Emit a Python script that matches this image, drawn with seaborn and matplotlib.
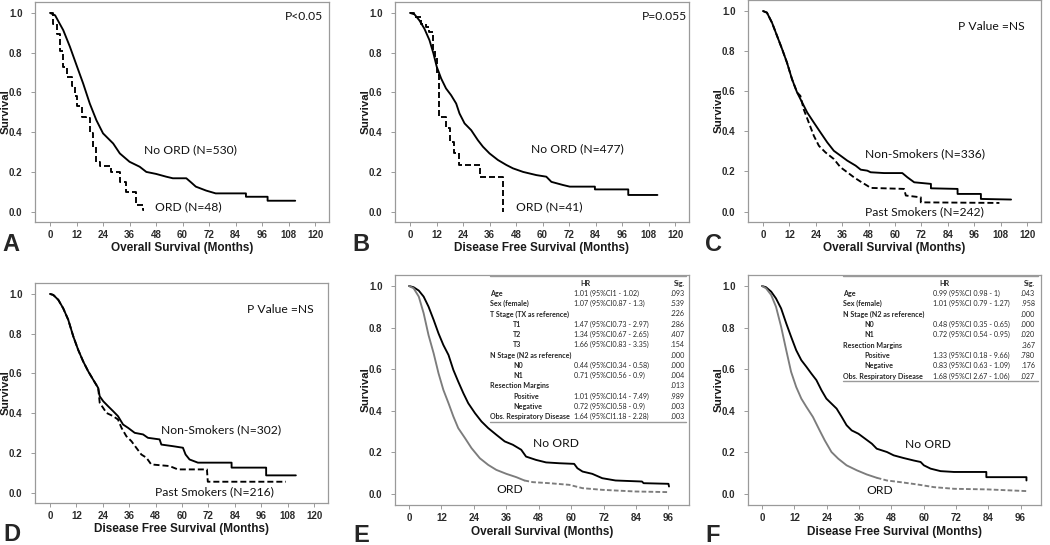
import matplotlib
matplotlib.use("Agg")
import matplotlib.pyplot as plt
import pandas as pd
import seaborn as sns

# ---- survival curves (months, survival) ----
# A: overall survival, ORD vs no ORD
a_noord_t = [0, 2.3, 6, 9, 12, 15, 18, 21, 24, 28.6, 31.6, 36, 40.6, 43.6, 48, 52.6, 55.6, 61.7,
             64, 66, 70.7, 75, 88.7, 88.7, 98.5, 98.5, 111]
a_noord_s = [1, 0.988, 0.913, 0.83, 0.737, 0.645, 0.544, 0.46, 0.394, 0.343, 0.293, 0.251, 0.226,
             0.20, 0.19, 0.176, 0.168, 0.168, 0.146, 0.126, 0.106, 0.092, 0.092, 0.075, 0.075, 0.055, 0.055]
a_ord_t = [0, 1.5, 3, 4.5, 6, 7.5, 9.8, 11.3, 12.3, 14.3, 16.5, 18, 19.5, 21, 22.5, 27.8, 31.6,
           34.6, 39, 42, 42.5]
a_ord_s = [1, 0.946, 0.896, 0.81, 0.73, 0.68, 0.63, 0.58, 0.53, 0.477, 0.47, 0.394, 0.327, 0.25,
           0.23, 0.20, 0.15, 0.10, 0.034, 0.01, 0.01]

# B: disease free survival, ORD vs no ORD
b_noord_t = [0, 2, 4.2, 6.5, 8.8, 10.6, 12.1, 14.1, 16.3, 18.6, 20.9, 22.4, 24.7, 27.7, 30.7, 33,
             36, 39.8, 43.6, 46.6, 51.2, 57.2, 61.7, 64, 69.3, 72.3, 83.7, 83.7, 98.8, 98.8, 112]
b_noord_s = [1, 0.993, 0.963, 0.921, 0.863, 0.796, 0.729, 0.67, 0.62, 0.586, 0.544, 0.494, 0.444,
             0.41, 0.36, 0.327, 0.293, 0.26, 0.235, 0.218, 0.20, 0.184, 0.176, 0.15, 0.134, 0.126,
             0.126, 0.112, 0.112, 0.084, 0.084]
b_ord_t = [0, 2, 5, 7.3, 8.8, 10.3, 11.5, 12.1, 13, 16.5, 17.9, 20.1, 22.4, 31.8, 42.1]
b_ord_s = [1, 0.98, 0.946, 0.93, 0.905, 0.81, 0.78, 0.687, 0.477, 0.42, 0.35, 0.293, 0.235, 0.176, 0.0]

# C: overall survival, non-smokers vs past smokers
c_non_t = [0, 1.8, 4.1, 6.4, 8.7, 10.9, 13.2, 15.5, 17.8, 20.1, 23.1, 26.1, 29.2, 32.2, 35.2, 38.3,
           42.1, 44.4, 47.4, 48.9, 55, 63.3, 65.6, 68.7, 76.3, 76.3, 88.4, 88.4, 99, 99, 112.7]
c_non_s = [1, 0.992, 0.942, 0.876, 0.81, 0.743, 0.66, 0.594, 0.544, 0.494, 0.444, 0.395, 0.345,
           0.303, 0.279, 0.254, 0.229, 0.209, 0.204, 0.196, 0.192, 0.192, 0.171, 0.146, 0.138,
           0.116, 0.113, 0.088, 0.088, 0.063, 0.06]
c_past_t = [0, 1.8, 4.1, 6.4, 8.7, 10.9, 13.2, 15.5, 17.0, 18.5, 20.8, 23.1, 25.4, 28.4, 32.2, 35.2,
            38.3, 41.3, 44.4, 47.4, 48.9, 55, 64.1, 64.9, 71.7, 71.7, 107.4]
c_past_s = [1, 0.992, 0.942, 0.876, 0.81, 0.743, 0.66, 0.594, 0.577, 0.51, 0.444, 0.378, 0.328,
            0.295, 0.262, 0.221, 0.196, 0.171, 0.149, 0.129, 0.118, 0.116, 0.113, 0.08, 0.071,
            0.046, 0.043]

# D: disease free survival, non-smokers vs past smokers
d_non_t = [0, 1.5, 3.8, 6, 8.3, 10.6, 12.8, 15.1, 17.4, 19.6, 21.9, 22.6, 24.2, 26.4, 28.7, 30.9,
           33.2, 35.5, 38.5, 42.3, 44.5, 49.8, 50.6, 55.8, 60.4, 61.6, 63.4, 67.2, 82.5, 82.5, 98.2,
           98.2, 111.7]
d_non_s = [1, 0.995, 0.97, 0.928, 0.87, 0.786, 0.719, 0.66, 0.61, 0.569, 0.527, 0.485, 0.46, 0.435,
           0.41, 0.385, 0.343, 0.326, 0.301, 0.293, 0.276, 0.268, 0.242, 0.234, 0.226, 0.192,
           0.167, 0.151, 0.151, 0.126, 0.126, 0.087, 0.087]
d_past_t = [0, 1.5, 3.8, 6, 8.3, 10.6, 12.8, 15.1, 17.4, 19.6, 21.9, 22.6, 24.2, 25.7, 28.7, 30.9,
            32.5, 34.7, 37, 39.2, 41.5, 43.8, 46, 54.3, 58.1, 71.3, 71.7, 107.2]
d_past_s = [1, 0.995, 0.97, 0.928, 0.87, 0.786, 0.719, 0.66, 0.61, 0.569, 0.527, 0.452, 0.426,
            0.401, 0.385, 0.368, 0.326, 0.284, 0.259, 0.226, 0.192, 0.176, 0.142, 0.134, 0.117,
            0.117, 0.055, 0.055]

# E: overall survival (adjusted)
e_noord_t = [0, 1.7, 3.6, 5.4, 7.2, 9.1, 10.9, 12.7, 14.6, 16.4, 18.2, 20.1, 21.9, 24.4, 26.8, 29.3,
             32.3, 35.4, 38.4, 41.5, 43.3, 47, 50.7, 55.6, 61.1, 62.3, 64.2, 67.8, 71.5, 76.4, 86.2,
             86.8, 96, 96.2]
e_noord_s = [1, 0.994, 0.978, 0.949, 0.901, 0.837, 0.772, 0.716, 0.668, 0.596, 0.54, 0.484, 0.436,
             0.388, 0.348, 0.316, 0.284, 0.252, 0.236, 0.212, 0.179, 0.163, 0.151, 0.147, 0.144,
             0.123, 0.107, 0.096, 0.075, 0.064, 0.059, 0.051, 0.048, 0.035]
e_ord_t = [0, 1.7, 3.6, 5.4, 7.2, 9.1, 10.9, 12.7, 14.6, 16.4, 18.2, 20.7, 23.1, 26.2, 29.3, 32.3,
           36, 39.7, 42.7, 45.8, 51.9, 59.3, 64.2, 71.5, 83.8, 96]
e_ord_s = [1, 0.989, 0.949, 0.869, 0.764, 0.676, 0.58, 0.5, 0.436, 0.372, 0.316, 0.268, 0.22, 0.171,
           0.139, 0.115, 0.096, 0.08, 0.064, 0.056, 0.051, 0.043, 0.027, 0.019, 0.011, 0.008]

# F: disease free survival (adjusted)
f_noord_t = [0, 1.5, 3.4, 5.2, 7.1, 9, 10.8, 12.7, 14.6, 16.5, 18.3, 20.2, 22.1, 23.9, 25.8, 27.7,
             29.6, 31.4, 33.3, 35.8, 38.3, 40.8, 42.6, 46.4, 48.9, 52.6, 56.4, 58.9, 60.1, 62.6,
             66.3, 71.3, 83.3, 83.3, 98.2, 98.2]
f_noord_s = [1, 0.994, 0.973, 0.94, 0.892, 0.82, 0.756, 0.691, 0.643, 0.611, 0.579, 0.547, 0.498,
             0.458, 0.434, 0.41, 0.37, 0.33, 0.305, 0.289, 0.265, 0.241, 0.217, 0.201, 0.185,
             0.172, 0.16, 0.153, 0.137, 0.121, 0.109, 0.105, 0.105, 0.08, 0.08, 0.064]
f_ord_t = [0, 1.5, 3.4, 5.2, 7.1, 9, 10.8, 12.7, 14.6, 16.5, 18.9, 21.4, 23.3, 25.8, 28.3, 31.4,
           35.2, 38.9, 42.6, 46.4, 51.4, 57.6, 63.8, 71.3, 83.8, 98.1]
f_ord_s = [1, 0.989, 0.957, 0.9, 0.804, 0.691, 0.587, 0.514, 0.458, 0.418, 0.37, 0.305, 0.257,
           0.201, 0.169, 0.137, 0.113, 0.093, 0.077, 0.064, 0.056, 0.045, 0.032, 0.024, 0.021, 0.013]

# Cox model tables
e_labels = ["Age", "Sex (female)", "T Stage (TX as reference)", "T1", "T2", "T3",
            "N Stage (N2 as reference)", "N0", "N1", "Resection Margins", "Positive", "Negative",
            "Obs. Respiratory Disease"]
e_hr = ["1.01 (95%CI1 - 1.02)", "1.07 (95%CI0.87 - 1.3)", "", "1.47 (95%CI0.73 - 2.97)",
        "1.34 (95%CI0.67 - 2.65)", "1.66 (95%CI0.83 - 3.35)", "", "0.44 (95%CI0.34 - 0.58)",
        "0.71 (95%CI0.56 - 0.9)", "", "1.01 (95%CI0.14 - 7.49)", "0.72 (95%CI0.58 - 0.9)",
        "1.64 (95%CI1.18 - 2.28)"]
e_sig = [".093", ".539", ".226", ".286", ".407", ".154", ".000", ".000", ".004", ".013", ".989",
         ".003", ".003"]
e_sub = [False, False, False, True, True, True, False, True, True, False, True, True, False]

f_labels = ["Age", "Sex (female)", "N Stage (N2 as reference)", "N0", "N1", "Resection Margins",
            "Positive", "Negative", "Obs. Respiratory Disease"]
f_hr = ["0.99 (95%CI 0.98 - 1)", "1.01 (95%CI 0.79 - 1.27)", "", "0.48 (95%CI 0.35 - 0.65)",
        "0.72 (95%CI 0.54 - 0.95)", "", "1.33 (95%CI 0.18 - 9.66)", "0.83 (95%CI 0.63 - 1.09)",
        "1.68 (95%CI 2.67 - 1.06)"]
f_sig = [".043", ".958", ".000", ".000", ".020", ".367", ".780", ".176", ".027"]
f_sub = [False, False, False, True, True, False, True, True, False]

sns.set_style("white")
plt.rcParams["font.family"] = ["Liberation Sans", "DejaVu Sans"]
NOTE_FONT = "Lato"
DASH = (0, (3.2, 1.6))
GREY = "#7c7c7c"

W, H = 1050, 545
fig = plt.figure(figsize=(W / 100, H / 100), dpi=100)


def add_ax(left, top, right, bottom):
    return fig.add_axes([left / W, 1 - bottom / H, (right - left) / W, (bottom - top) / H])


def km_line(ax, t, s, color="black", ls="-", steps=False, lw=1.35):
    df = pd.DataFrame({"Months": t, "Survival": s})
    sns.lineplot(data=df, x="Months", y="Survival", ax=ax, color=color, linestyle=ls, lw=lw,
                 estimator=None, sort=False, drawstyle="steps-post" if steps else "default")


def style_ax(ax, xlim, ylim, xticks, xlabel):
    ax.set_xlim(xlim)
    ax.set_ylim(ylim)
    ax.set_xticks(xticks)
    ax.set_xticklabels([str(v) for v in xticks])
    yt = [0.0, 0.2, 0.4, 0.6, 0.8, 1.0]
    ax.set_yticks(yt)
    ax.set_yticklabels([f"{v:.1f}" for v in yt])
    for sp in ax.spines.values():
        sp.set_color("#9a9a9a")
        sp.set_linewidth(0.9)
    ax.tick_params(bottom=True, left=True, length=3, width=0.7, color="#9a9a9a",
                   labelsize=7, labelcolor="#2a2a2a")
    ax.tick_params(axis="x", pad=3)
    ax.tick_params(axis="y", pad=6)
    for lab in ax.get_xticklabels() + ax.get_yticklabels():
        lab.set_fontweight("bold")
    ax.set_xlabel(xlabel, fontsize=8.5, fontweight="bold", color="#1a1a1a")
    ax.set_ylabel("Survival", fontsize=8.2, fontweight="bold", color="#1a1a1a")
    ax.xaxis.set_label_coords(0.5, -0.092)
    ax.yaxis.set_label_coords(-0.084, 0.5)


def note(ax, x, y, s, ha="left"):
    ax.text(x, y, s, ha=ha, va="center", fontsize=8.7, family=NOTE_FONT, color="#111111")


def hr_table(ax, labels, hrs, sigs, sub, x0, x_sub, x_hr, x_sig, y_top, dy, x_end):
    kw = dict(transform=ax.transAxes, fontsize=5.1, family=NOTE_FONT, va="center")
    ax.plot([x0, x_end], [y_top, y_top], transform=ax.transAxes, color="#9a9a9a", lw=1.0)
    y = y_top - 0.032
    ax.text(x_hr + 0.02, y, "HR", fontweight="bold", **kw)
    ax.text(x_sig, y, "Sig.", fontweight="bold", ha="right", **kw)
    for i, (lab, hr, sg, is_sub) in enumerate(zip(labels, hrs, sigs, sub)):
        yy = y_top - 0.076 - i * dy
        ax.text(x_sub if is_sub else x0, yy, lab, fontweight="bold", **kw)
        ax.text(x_hr, yy, hr, **kw)
        ax.text(x_sig, yy, sg, ha="right", **kw)
    yb = y_top - 0.076 - (len(labels) - 1) * dy - 0.022
    ax.plot([x0, x_end], [yb, yb], transform=ax.transAxes, color="#9a9a9a", lw=1.0)


XL1, YL1 = (-6.8, 126.3), (-0.052, 1.055)
XL2, YL2 = (-5.2, 103.6), (-0.054, 1.053)
T120 = list(range(0, 121, 12))
T96 = list(range(0, 97, 12))

# A
ax = add_ax(35, 2, 329, 222)
km_line(ax, a_noord_t, a_noord_s)
km_line(ax, a_ord_t, a_ord_s, ls=DASH, steps=True)
style_ax(ax, XL1, YL1, T120, "Overall Survival (Months)")
note(ax, 123.5, 0.98, "P<0.05", ha="right")
note(ax, 42.4, 0.313, "No ORD (N=530)")
note(ax, 47.7, 0.025, "ORD (N=48)")

# B
ax = add_ax(395, 2, 689, 222)
km_line(ax, b_noord_t, b_noord_s)
km_line(ax, b_ord_t, b_ord_s, ls=DASH, steps=True)
style_ax(ax, XL1, YL1, T120, "Disease Free Survival (Months)")
note(ax, 125.5, 0.98, "P=0.055", ha="right")
note(ax, 54.9, 0.315, "No ORD (N=477)")
note(ax, 47.8, 0.022, "ORD (N=41)")

# C
ax = add_ax(748, 0, 1041, 222)
km_line(ax, c_non_t, c_non_s)
km_line(ax, c_past_t, c_past_s, ls=DASH)
style_ax(ax, XL1, YL1, T120, "Overall Survival (Months)")
note(ax, 118.8, 0.925, "P Value =NS", ha="right")
note(ax, 46.3, 0.287, "Non-Smokers (N=336)")
note(ax, 46.3, 0.0, "Past Smokers (N=242)")

# D
ax = add_ax(35, 283, 328, 503)
km_line(ax, d_non_t, d_non_s)
km_line(ax, d_past_t, d_past_s, ls=DASH)
style_ax(ax, XL1, YL1, T120, "Disease Free Survival (Months)")
note(ax, 119.8, 0.923, "P Value =NS", ha="right")
note(ax, 50.6, 0.318, "Non-Smokers (N=302)")
note(ax, 47.8, 0.003, "Past Smokers (N=216)")

# E
ax = add_ax(395, 275, 689, 505)
km_line(ax, e_noord_t, e_noord_s)
cut = e_ord_t.index(42.7)
km_line(ax, e_ord_t[:cut + 1], e_ord_s[:cut + 1], color=GREY)
km_line(ax, e_ord_t[cut:], e_ord_s[cut:], color=GREY, ls=(0, (2.5, 1.2)))
style_ax(ax, XL2, YL2, T96, "Overall Survival (Months)")
note(ax, 45.8, 0.24, "No ORD")
note(ax, 32.3, 0.019, "ORD")
hr_table(ax, e_labels, e_hr, e_sig, e_sub, 0.323, 0.401, 0.61, 0.986, 0.996, 0.0447, 0.99)

# F
ax = add_ax(748, 275, 1041, 505)
km_line(ax, f_noord_t, f_noord_s)
cut = f_ord_t.index(42.6)
km_line(ax, f_ord_t[:cut + 1], f_ord_s[:cut + 1], color=GREY)
km_line(ax, f_ord_t[cut:], f_ord_s[cut:], color=GREY, ls=(0, (2.5, 1.2)))
style_ax(ax, XL2, YL2, T96, "Disease Free Survival (Months)")
note(ax, 53.2, 0.238, "No ORD")
note(ax, 38.9, 0.016, "ORD")
hr_table(ax, f_labels, f_hr, f_sig, f_sub, 0.323, 0.397, 0.632, 0.98, 0.996, 0.0449, 0.99)

# panel letters
for letter, x, y in [("A", 2, 251), ("B", 352, 251), ("C", 705, 251),
                     ("D", 3, 541), ("E", 353, 542), ("F", 705, 542)]:
    fig.text(x / W, 1 - y / H, letter, fontsize=17, fontweight="bold", va="baseline", ha="left")

fig.savefig("out.png", dpi=100, facecolor="white")
